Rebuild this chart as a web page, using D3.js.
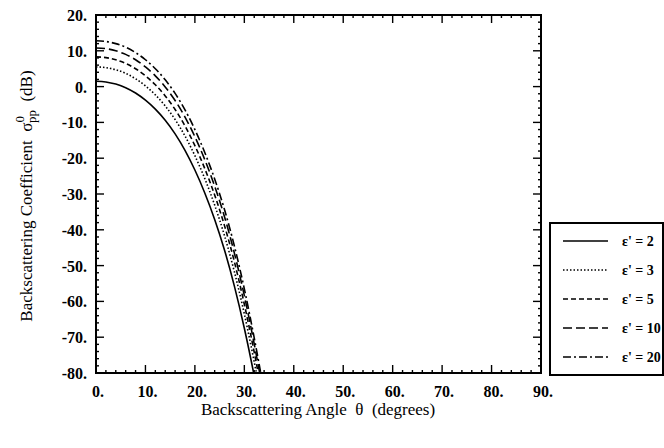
<!DOCTYPE html>
<html>
<head>
<meta charset="utf-8">
<script src="https://cdn.jsdelivr.net/npm/d3@7"></script>
<style>
body { margin: 0; background: #fff; }
svg { font-family: "Liberation Serif", "DejaVu Serif", serif; }
text { white-space: pre; }
</style>
</head>
<body>
<div class="chart"></div>
<script>
var svgWidth = 664;
var svgHeight = 448;
var margin = { top: 15, right: 123, bottom: 75, left: 96 };

var width = svgWidth - margin.left - margin.right;
var height = svgHeight - margin.top - margin.bottom;

// data
var angles = [0, 2, 4, 6, 8, 10, 12, 14, 16, 18, 20, 22, 24, 26, 28, 30, 32, 34];
var eps2 = [1.5, 1.3, 0.7, -0.3, -1.8, -3.8, -6.3, -9.4, -13.2, -17.8, -23.3, -29.7, -37.1, -45.7, -55.8, -67.5, -80.8, -95.5];
var eps3 = [5.5, 5.3, 4.7, 3.7, 2.2, 0.2, -2.3, -5.4, -9.2, -13.8, -19.3, -25.7, -33.1, -41.7, -51.8, -63.5, -76.9, -91.5];
var eps5 = [8.3, 8.1, 7.5, 6.5, 5.0, 3.0, 0.5, -2.6, -6.4, -11.0, -16.5, -22.9, -30.3, -38.9, -49.0, -60.8, -74.2, -89];
var eps10 = [10.8, 10.6, 10.0, 9.0, 7.5, 5.5, 3.0, -0.1, -3.9, -8.5, -14.0, -20.4, -27.8, -36.4, -46.6, -58.4, -71.9, -86.8];
var eps20 = [12.8, 12.6, 12.0, 11.0, 9.5, 7.5, 5.0, 1.9, -1.9, -6.5, -12.0, -18.4, -25.8, -34.4, -44.6, -56.5, -70.2, -85.2];
var seriesNames = ["\u03b5' = 2", "\u03b5' = 3", "\u03b5' = 5", "\u03b5' = 10", "\u03b5' = 20"];
var xTicks = [0, 10, 20, 30, 40, 50, 60, 70, 80, 90];
var yTicks = [20, 10, 0, -10, -20, -30, -40, -50, -60, -70, -80];

var dashes = ["none", "1.5,2", "5,3", "9,4", "8,3,2,3"];
var allSeries = [eps2, eps3, eps5, eps10, eps20];

var svg = d3.select(".chart")
    .append("svg")
    .attr("width", svgWidth)
    .attr("height", svgHeight);

var chartGroup = svg.append("g")
    .attr("transform", `translate(${margin.left}, ${margin.top})`);

var xScale = d3.scaleLinear().domain([0, 90]).range([0, width]);
var yScale = d3.scaleLinear().domain([-80, 20]).range([height, 0]);

// clip
svg.append("defs").append("clipPath").attr("id", "clip")
    .append("rect").attr("width", width).attr("height", height);

// curves
var line = d3.line()
    .x(d => xScale(d[0]))
    .y(d => yScale(d[1]))
    .curve(d3.curveMonotoneX);

var plot = chartGroup.append("g").attr("clip-path", "url(#clip)");
allSeries.forEach(function(vals, i) {
    plot.append("path")
        .datum(angles.map((a, j) => [a, vals[j]]))
        .attr("fill", "none")
        .attr("stroke", "#000")
        .attr("stroke-width", 1.6)
        .attr("stroke-dasharray", dashes[i])
        .attr("d", line);
});

// frame
chartGroup.append("rect")
    .attr("width", width).attr("height", height)
    .attr("fill", "none").attr("stroke", "#000").attr("stroke-width", 2);

// inward ticks on all four sides
var xMinor = d3.range(0, 91, 2);
var yMinor = d3.range(-80, 21, 2);
function tickLen(v, major) { return major.indexOf(v) >= 0 ? 8 : 3; }

var ticks = chartGroup.append("g").attr("stroke", "#000").attr("stroke-width", 1.4);
xMinor.forEach(function(v) {
    var L = tickLen(v, xTicks);
    ticks.append("line").attr("x1", xScale(v)).attr("x2", xScale(v)).attr("y1", height).attr("y2", height - L);
    ticks.append("line").attr("x1", xScale(v)).attr("x2", xScale(v)).attr("y1", 0).attr("y2", L);
});
yMinor.forEach(function(v) {
    var L = tickLen(v, yTicks);
    ticks.append("line").attr("y1", yScale(v)).attr("y2", yScale(v)).attr("x1", 0).attr("x2", L);
    ticks.append("line").attr("y1", yScale(v)).attr("y2", yScale(v)).attr("x1", width).attr("x2", width - L);
});

// tick labels
chartGroup.selectAll(".xlab").data(xTicks).enter().append("text")
    .attr("x", d => xScale(d) + 2)
    .attr("y", height + 24)
    .attr("text-anchor", "middle")
    .style("font-size", "16px")
    .style("font-weight", "bold")
    .text(d => d + ".");

chartGroup.selectAll(".ylab").data(yTicks).enter().append("text")
    .attr("x", -9)
    .attr("y", d => yScale(d) + 6)
    .attr("text-anchor", "end")
    .style("font-size", "16px")
    .style("font-weight", "bold")
    .text(d => d + ".");

// axis titles
svg.append("text")
    .attr("x", 318)
    .attr("y", 415)
    .attr("text-anchor", "middle")
    .style("font-size", "17px")
    .text("Backscattering Angle  \u03b8  (degrees)");

var yt = svg.append("text")
    .attr("transform", "translate(32, 196) rotate(-90)")
    .attr("text-anchor", "middle")
    .style("font-size", "17px");
yt.append("tspan").text("Backscattering Coefficient  \u03c3");
yt.append("tspan").attr("dy", -8).style("font-size", "13px").text("0");
yt.append("tspan").attr("dy", 12).attr("dx", -7).style("font-size", "13px").text("pp");
yt.append("tspan").attr("dy", -4).text("  (dB)");

// legend
var legend = svg.append("g").attr("transform", "translate(550, 223)");
legend.append("rect")
    .attr("width", 113).attr("height", 152)
    .attr("fill", "none").attr("stroke", "#000").attr("stroke-width", 2);
seriesNames.forEach(function(name, i) {
    var y = 18 + i * 29;
    legend.append("line")
        .attr("x1", 13).attr("x2", 58).attr("y1", y).attr("y2", y)
        .attr("stroke", "#000").attr("stroke-width", 1.6)
        .attr("stroke-dasharray", dashes[i]);
    legend.append("text")
        .attr("x", 72).attr("y", y + 5)
        .style("font-size", "14px")
        .style("font-weight", "bold")
        .text(name);
});
</script>
</body>
</html>
